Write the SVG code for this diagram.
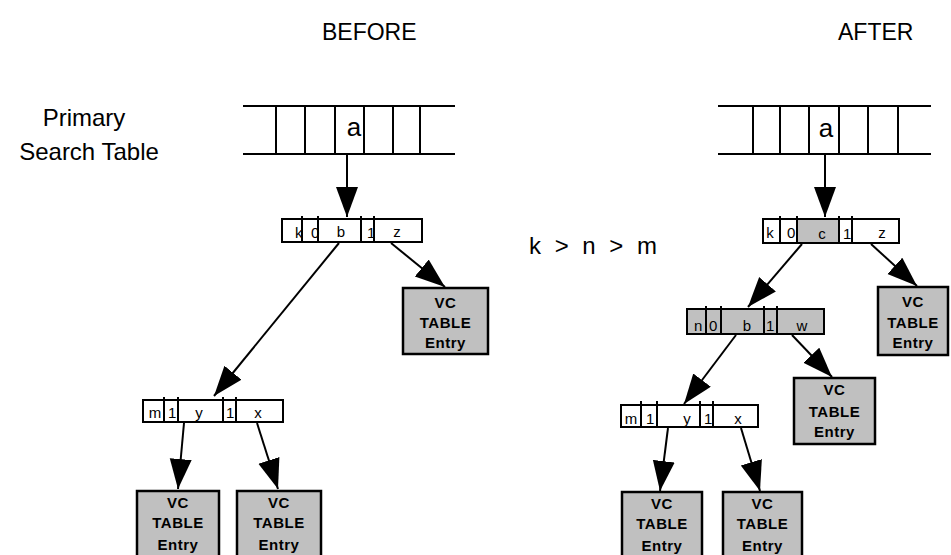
<svg xmlns="http://www.w3.org/2000/svg" width="951" height="555" viewBox="0 0 951 555">
<style>
text{font-family:"Liberation Sans",Arial,sans-serif;fill:#000}
.title{font-size:23px}
.lbl{font-size:24px}
.tab{stroke:#000;stroke-width:2;fill:none}
.box{fill:#fff;stroke:#000;stroke-width:2}
.gbox{fill:#c0c0c0;stroke:#000;stroke-width:2}
.div{stroke:#000;stroke-width:2}
.cell{font-size:15px}
.vc{fill:#c0c0c0;stroke:#000;stroke-width:2.5}
.vct{font-size:15px;font-weight:bold;text-anchor:middle;letter-spacing:0.5px}
.conn line{stroke:#000;stroke-width:2;marker-end:url(#ah)}
</style>
<defs>
<marker id="ah" markerUnits="userSpaceOnUse" markerWidth="31" markerHeight="23" refX="30" refY="11" orient="auto" viewBox="0 0 31 23">
<path d="M0,0 L30,11 L0,22 Z" fill="#000"/>
</marker>
</defs>

<text class="title" x="322" y="40">BEFORE</text>
<text class="title" x="838" y="40">AFTER</text>
<text class="lbl" x="84" y="126" text-anchor="middle">Primary</text>
<text class="lbl" x="89" y="160" text-anchor="middle">Search Table</text>
<text x="529" y="254" style="font-size:24px;word-spacing:7px">k &gt; n &gt; m</text>

<g id="table-before">
<line class="tab" x1="243" y1="106" x2="455" y2="106"/>
<line class="tab" x1="243" y1="154" x2="455" y2="154"/>
<path class="tab" d="M276,106V154M305,106V154M335,106V154M364,106V154M393,106V154M420,106V154"/>
<text x="354" y="136" text-anchor="middle" style="font-size:26px">a</text>
</g>

<g id="node-before-top">
<rect class="box" x="282" y="219" width="140" height="23"/>
<text class="cell" x="295" y="238">k</text>
<text class="cell" x="311" y="238">0</text>
<text class="cell" x="341" y="237" text-anchor="middle">b</text>
<text class="cell" x="367" y="238">1</text>
<text class="cell" x="397" y="237" text-anchor="middle">z</text>
<path class="div" d="M302,216V242M318,216V242M361,216V242M374,216V242"/>
</g>

<g id="vc-before-right">
<rect class="vc" x="403" y="288" width="85" height="66"/>
<text class="vct" x="445.5" y="308">VC</text>
<text class="vct" x="445.5" y="328">TABLE</text>
<text class="vct" x="445.5" y="348">Entry</text>
</g>

<g id="node-before-low">
<rect class="box" x="143" y="400" width="140" height="22"/>
<text class="cell" x="155" y="418" text-anchor="middle">m</text>
<text class="cell" x="168" y="418">1</text>
<text class="cell" x="199" y="418" text-anchor="middle">y</text>
<text class="cell" x="226" y="418">1</text>
<text class="cell" x="258" y="418" text-anchor="middle">x</text>
<path class="div" d="M164,397V422M178,397V422M223,397V422M236,397V422"/>
</g>

<g id="vc-before-1">
<rect class="vc" x="137" y="491" width="82" height="67"/>
<text class="vct" x="178" y="508">VC</text>
<text class="vct" x="178" y="528">TABLE</text>
<text class="vct" x="178" y="550">Entry</text>
</g>
<g id="vc-before-2">
<rect class="vc" x="237" y="491" width="84" height="67"/>
<text class="vct" x="279" y="508">VC</text>
<text class="vct" x="279" y="528">TABLE</text>
<text class="vct" x="279" y="550">Entry</text>
</g>

<g id="table-after">
<line class="tab" x1="718" y1="106" x2="931" y2="106"/>
<line class="tab" x1="718" y1="154" x2="931" y2="154"/>
<path class="tab" d="M753,106V154M780,106V154M809,106V154M839,106V154M868,106V154M898,106V154"/>
<text x="826" y="137" text-anchor="middle" style="font-size:26px">a</text>
</g>

<g id="node-after-top">
<rect class="box" x="763" y="219" width="136" height="24"/>
<rect class="gbox" x="797" y="219" width="42" height="24"/>
<text class="cell" x="770" y="238" text-anchor="middle">k</text>
<text class="cell" x="787" y="238">0</text>
<text class="cell" x="822" y="239" text-anchor="middle">c</text>
<text class="cell" x="843" y="239">1</text>
<text class="cell" x="882" y="238" text-anchor="middle">z</text>
<path class="div" d="M780,216V243M797,216V243M839,216V243M852,216V243"/>
</g>

<g id="vc-after-right">
<rect class="vc" x="878" y="287" width="70" height="68"/>
<text class="vct" x="913" y="307">VC</text>
<text class="vct" x="913" y="328">TABLE</text>
<text class="vct" x="913" y="348">Entry</text>
</g>

<g id="node-after-mid">
<rect class="gbox" x="687" y="309" width="137" height="25"/>
<text class="cell" x="694" y="331">n</text>
<text class="cell" x="709" y="331">0</text>
<text class="cell" x="747" y="331" text-anchor="middle">b</text>
<text class="cell" x="766" y="331">1</text>
<text class="cell" x="802" y="331" text-anchor="middle">w</text>
<path class="div" d="M706,306V334M721,306V334M764,306V334M777,306V334"/>
</g>

<g id="vc-after-mid">
<rect class="vc" x="794" y="378" width="81" height="66"/>
<text class="vct" x="834.5" y="395">VC</text>
<text class="vct" x="834.5" y="417">TABLE</text>
<text class="vct" x="834.5" y="437">Entry</text>
</g>

<g id="node-after-low">
<rect class="box" x="621" y="405" width="137" height="22"/>
<text class="cell" x="631" y="424" text-anchor="middle">m</text>
<text class="cell" x="646" y="424">1</text>
<text class="cell" x="687" y="424" text-anchor="middle">y</text>
<text class="cell" x="704" y="424">1</text>
<text class="cell" x="738" y="424" text-anchor="middle">x</text>
<path class="div" d="M641,401V427M657,401V427M700,401V427M713,401V427"/>
</g>

<g id="vc-after-1">
<rect class="vc" x="622" y="492" width="80" height="67"/>
<text class="vct" x="662" y="509">VC</text>
<text class="vct" x="662" y="529">TABLE</text>
<text class="vct" x="662" y="551">Entry</text>
</g>
<g id="vc-after-2">
<rect class="vc" x="723" y="492" width="79" height="67"/>
<text class="vct" x="762.5" y="509">VC</text>
<text class="vct" x="762.5" y="529">TABLE</text>
<text class="vct" x="762.5" y="551">Entry</text>
</g>

<g id="connectors" class="conn">
<line x1="347" y1="155" x2="347" y2="217"/>
<line x1="391" y1="243" x2="445" y2="287"/>
<line x1="339" y1="243" x2="214" y2="396"/>
<line x1="184" y1="423" x2="178" y2="489"/>
<line x1="257" y1="423" x2="278" y2="489"/>
<line x1="825" y1="155" x2="825" y2="217"/>
<line x1="802" y1="244" x2="748" y2="307"/>
<line x1="871" y1="244" x2="917" y2="286"/>
<line x1="792" y1="335" x2="832" y2="377"/>
<line x1="736" y1="335" x2="684" y2="404"/>
<line x1="668" y1="428" x2="660" y2="491"/>
<line x1="741" y1="428" x2="760" y2="491"/>
</g>
</svg>
